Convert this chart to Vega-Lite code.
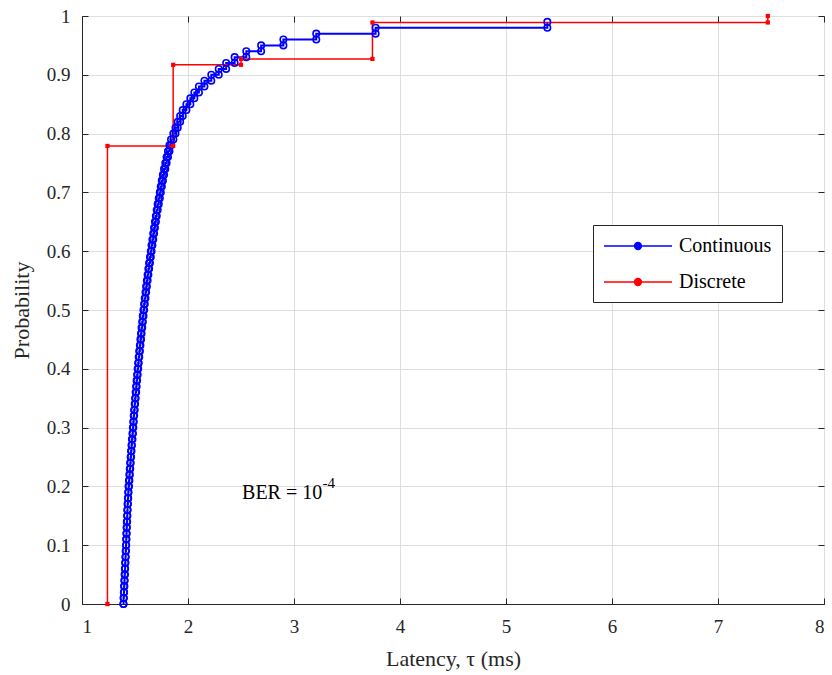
{
  "$schema": "https://vega.github.io/schema/vega-lite/v6.json",
  "width": 742,
  "height": 588,
  "autosize": {"type": "none"},
  "padding": {"left": 82, "top": 16, "right": 8, "bottom": 71},
  "background": "white",
  "config": {
    "font": "Liberation Serif",
    "view": {"stroke": "#262626", "strokeWidth": 1},
    "axis": {
      "labelFont": "Liberation Serif",
      "titleFont": "Liberation Serif",
      "labelFontSize": 19,
      "titleFontSize": 22,
      "labelColor": "#262626",
      "titleColor": "#262626",
      "titleFontWeight": "normal",
      "domainColor": "#262626",
      "tickColor": "#262626",
      "gridColor": "#dedede",
      "gridWidth": 1
    },
    "legend": {
      "labelFont": "Liberation Serif",
      "labelFontSize": 20,
      "labelColor": "#000000"
    }
  },
  "datasets": {
    "cont": [
      {"x":1.390,"p":0},
      {"x":1.392,"p":0},{"x":1.392,"p":0.01},
      {"x":1.395,"p":0.01},{"x":1.395,"p":0.02},
      {"x":1.397,"p":0.02},{"x":1.397,"p":0.03},
      {"x":1.400,"p":0.03},{"x":1.400,"p":0.04},
      {"x":1.402,"p":0.04},{"x":1.402,"p":0.05},
      {"x":1.405,"p":0.05},{"x":1.405,"p":0.06},
      {"x":1.407,"p":0.06},{"x":1.407,"p":0.07},
      {"x":1.410,"p":0.07},{"x":1.410,"p":0.08},
      {"x":1.412,"p":0.08},{"x":1.412,"p":0.09},
      {"x":1.415,"p":0.09},{"x":1.415,"p":0.10},
      {"x":1.417,"p":0.10},{"x":1.417,"p":0.11},
      {"x":1.419,"p":0.11},{"x":1.419,"p":0.12},
      {"x":1.421,"p":0.12},{"x":1.421,"p":0.13},
      {"x":1.423,"p":0.13},{"x":1.423,"p":0.14},
      {"x":1.426,"p":0.14},{"x":1.426,"p":0.15},
      {"x":1.428,"p":0.15},{"x":1.428,"p":0.16},
      {"x":1.430,"p":0.16},{"x":1.430,"p":0.17},
      {"x":1.433,"p":0.17},{"x":1.433,"p":0.18},
      {"x":1.436,"p":0.18},{"x":1.436,"p":0.19},
      {"x":1.439,"p":0.19},{"x":1.439,"p":0.20},
      {"x":1.443,"p":0.20},{"x":1.443,"p":0.21},
      {"x":1.447,"p":0.21},{"x":1.447,"p":0.22},
      {"x":1.451,"p":0.22},{"x":1.451,"p":0.23},
      {"x":1.455,"p":0.23},{"x":1.455,"p":0.24},
      {"x":1.459,"p":0.24},{"x":1.459,"p":0.25},
      {"x":1.463,"p":0.25},{"x":1.463,"p":0.26},
      {"x":1.467,"p":0.26},{"x":1.467,"p":0.27},
      {"x":1.471,"p":0.27},{"x":1.471,"p":0.28},
      {"x":1.476,"p":0.28},{"x":1.476,"p":0.29},
      {"x":1.480,"p":0.29},{"x":1.480,"p":0.30},
      {"x":1.484,"p":0.30},{"x":1.484,"p":0.31},
      {"x":1.488,"p":0.31},{"x":1.488,"p":0.32},
      {"x":1.492,"p":0.32},{"x":1.492,"p":0.33},
      {"x":1.497,"p":0.33},{"x":1.497,"p":0.34},
      {"x":1.501,"p":0.34},{"x":1.501,"p":0.35},
      {"x":1.506,"p":0.35},{"x":1.506,"p":0.36},
      {"x":1.511,"p":0.36},{"x":1.511,"p":0.37},
      {"x":1.515,"p":0.37},{"x":1.515,"p":0.38},
      {"x":1.520,"p":0.38},{"x":1.520,"p":0.39},
      {"x":1.525,"p":0.39},{"x":1.525,"p":0.40},
      {"x":1.530,"p":0.40},{"x":1.530,"p":0.41},
      {"x":1.535,"p":0.41},{"x":1.535,"p":0.42},
      {"x":1.540,"p":0.42},{"x":1.540,"p":0.43},
      {"x":1.546,"p":0.43},{"x":1.546,"p":0.44},
      {"x":1.551,"p":0.44},{"x":1.551,"p":0.45},
      {"x":1.557,"p":0.45},{"x":1.557,"p":0.46},
      {"x":1.562,"p":0.46},{"x":1.562,"p":0.47},
      {"x":1.568,"p":0.47},{"x":1.568,"p":0.48},
      {"x":1.574,"p":0.48},{"x":1.574,"p":0.49},
      {"x":1.580,"p":0.49},{"x":1.580,"p":0.50},
      {"x":1.586,"p":0.50},{"x":1.586,"p":0.51},
      {"x":1.592,"p":0.51},{"x":1.592,"p":0.52},
      {"x":1.599,"p":0.52},{"x":1.599,"p":0.53},
      {"x":1.605,"p":0.53},{"x":1.605,"p":0.54},
      {"x":1.612,"p":0.54},{"x":1.612,"p":0.55},
      {"x":1.619,"p":0.55},{"x":1.619,"p":0.56},
      {"x":1.626,"p":0.56},{"x":1.626,"p":0.57},
      {"x":1.633,"p":0.57},{"x":1.633,"p":0.58},
      {"x":1.641,"p":0.58},{"x":1.641,"p":0.59},
      {"x":1.649,"p":0.59},{"x":1.649,"p":0.60},
      {"x":1.656,"p":0.60},{"x":1.656,"p":0.61},
      {"x":1.664,"p":0.61},{"x":1.664,"p":0.62},
      {"x":1.672,"p":0.62},{"x":1.672,"p":0.63},
      {"x":1.680,"p":0.63},{"x":1.680,"p":0.64},
      {"x":1.688,"p":0.64},{"x":1.688,"p":0.65},
      {"x":1.697,"p":0.65},{"x":1.697,"p":0.66},
      {"x":1.705,"p":0.66},{"x":1.705,"p":0.67},
      {"x":1.714,"p":0.67},{"x":1.714,"p":0.68},
      {"x":1.724,"p":0.68},{"x":1.724,"p":0.69},
      {"x":1.734,"p":0.69},{"x":1.734,"p":0.70},
      {"x":1.743,"p":0.70},{"x":1.743,"p":0.71},
      {"x":1.753,"p":0.71},{"x":1.753,"p":0.72},
      {"x":1.763,"p":0.72},{"x":1.763,"p":0.73},
      {"x":1.774,"p":0.73},{"x":1.774,"p":0.74},
      {"x":1.786,"p":0.74},{"x":1.786,"p":0.75},
      {"x":1.798,"p":0.75},{"x":1.798,"p":0.76},
      {"x":1.811,"p":0.76},{"x":1.811,"p":0.77},
      {"x":1.825,"p":0.77},{"x":1.825,"p":0.78},
      {"x":1.840,"p":0.78},{"x":1.840,"p":0.79},
      {"x":1.862,"p":0.79},{"x":1.862,"p":0.80},
      {"x":1.882,"p":0.80},{"x":1.882,"p":0.81},
      {"x":1.903,"p":0.81},{"x":1.903,"p":0.82},
      {"x":1.926,"p":0.82},{"x":1.926,"p":0.83},
      {"x":1.950,"p":0.83},{"x":1.950,"p":0.84},
      {"x":1.985,"p":0.84},{"x":1.985,"p":0.85},
      {"x":2.022,"p":0.85},{"x":2.022,"p":0.86},
      {"x":2.060,"p":0.86},{"x":2.060,"p":0.87},
      {"x":2.103,"p":0.87},{"x":2.103,"p":0.88},
      {"x":2.155,"p":0.88},{"x":2.155,"p":0.89},
      {"x":2.220,"p":0.89},{"x":2.220,"p":0.90},
      {"x":2.290,"p":0.90},{"x":2.290,"p":0.91},
      {"x":2.360,"p":0.91},{"x":2.360,"p":0.92},
      {"x":2.440,"p":0.92},{"x":2.440,"p":0.93},
      {"x":2.550,"p":0.93},{"x":2.550,"p":0.94},
      {"x":2.690,"p":0.94},{"x":2.690,"p":0.95},
      {"x":2.900,"p":0.95},{"x":2.900,"p":0.96},
      {"x":3.210,"p":0.96},{"x":3.210,"p":0.97},
      {"x":3.770,"p":0.97},{"x":3.770,"p":0.98},
      {"x":5.390,"p":0.98},{"x":5.390,"p":0.99}
    ],
    "disc": [
      {"x":1.24,"p":0},{"x":1.24,"p":0.779},
      {"x":1.86,"p":0.779},{"x":1.86,"p":0.917},
      {"x":2.50,"p":0.917},{"x":2.50,"p":0.927},
      {"x":3.74,"p":0.927},{"x":3.74,"p":0.989},
      {"x":7.47,"p":0.989},{"x":7.47,"p":1.0}
    ]
  },
  "resolve": {"axis": {"x": "independent", "y": "independent"}},
  "layer": [
    {
      "data": {"name": "cont"},
      "mark": {"type": "line", "strokeWidth": 2},
      "encoding": {
        "x": {"field": "x", "type": "quantitative", "scale": {"domain": [1, 8]},
          "axis": {"orient": "bottom", "values": [1,2,3,4,5,6,7,8], "grid": true, "tickSize": -6, "labelPadding": 19, "title": "Latency, τ (ms)", "titlePadding": 12, "format": "~g"}},
        "y": {"field": "p", "type": "quantitative", "scale": {"domain": [0, 1]},
          "axis": {"orient": "left", "values": [0,0.1,0.2,0.3,0.4,0.5,0.6,0.7,0.8,0.9,1], "grid": true, "tickSize": -6, "labelPadding": 18, "title": "Probability", "titlePadding": 13, "format": "~g"}},
        "order": [{"field": "x", "type": "quantitative"}, {"field": "p", "type": "quantitative"}],
        "color": {"datum": "Continuous", "type": "nominal",
          "scale": {"domain": ["Continuous", "Discrete"], "range": ["#0000ff", "#ff0000"]},
          "legend": {
            "orient": "none", "legendX": 511, "legendY": 209, "title": null,
            "strokeColor": "#262626", "fillColor": "white", "cornerRadius": 0, "padding": 10,
            "symbolType": "M-1,0H5.8M2.06,0A0.34,0.34 0 1,1 2.74,0A0.34,0.34 0 1,1 2.06,0Z",
            "symbolSize": 400, "symbolStrokeWidth": 1.5, "labelOffset": 54, "rowPadding": 15,
            "labelFont": "Liberation Serif", "labelFontSize": 20,
            "encode": {"symbols": {"update": {"fill": {"scale": "color", "field": "value"}}}}
          }}
      }
    },
    {
      "data": {"name": "disc"},
      "mark": {"type": "line", "strokeWidth": 1.5},
      "encoding": {
        "x": {"field": "x", "type": "quantitative", "scale": {"domain": [1, 8]},
          "axis": {"orient": "top", "values": [1,2,3,4,5,6,7,8], "grid": false, "labels": false, "domain": false, "tickSize": -6, "title": null}},
        "y": {"field": "p", "type": "quantitative", "scale": {"domain": [0, 1]},
          "axis": {"orient": "right", "values": [0,0.1,0.2,0.3,0.4,0.5,0.6,0.7,0.8,0.9,1], "grid": false, "labels": false, "domain": false, "tickSize": -6, "title": null}},
        "order": [{"field": "x", "type": "quantitative"}, {"field": "p", "type": "quantitative"}],
        "color": {"datum": "Discrete", "type": "nominal"}
      }
    },
    {
      "data": {"name": "cont"},
      "mark": {"type": "point", "filled": false, "color": "#0000ff", "strokeWidth": 1.6, "size": 42, "opacity": 1},
      "encoding": {
        "x": {"field": "x", "type": "quantitative", "axis": null},
        "y": {"field": "p", "type": "quantitative", "axis": null}
      }
    },
    {
      "data": {"name": "disc"},
      "mark": {"type": "square", "filled": true, "color": "#ff0000", "size": 18, "opacity": 1},
      "encoding": {
        "x": {"field": "x", "type": "quantitative", "axis": null},
        "y": {"field": "p", "type": "quantitative", "axis": null}
      }
    },
    {
      "data": {"values": [{}]},
      "mark": {"type": "text", "text": "BER = 10", "align": "left", "baseline": "alphabetic", "fontSize": 20, "font": "Liberation Serif", "color": "#000000"},
      "encoding": {
        "x": {"datum": 2.51, "type": "quantitative", "axis": null},
        "y": {"datum": 0.178, "type": "quantitative", "axis": null}
      }
    },
    {
      "data": {"values": [{}]},
      "mark": {"type": "text", "text": "-4", "align": "left", "baseline": "alphabetic", "fontSize": 15, "font": "Liberation Serif", "color": "#000000"},
      "encoding": {
        "x": {"datum": 3.27, "type": "quantitative", "axis": null},
        "y": {"datum": 0.198, "type": "quantitative", "axis": null}
      }
    }
  ]
}
